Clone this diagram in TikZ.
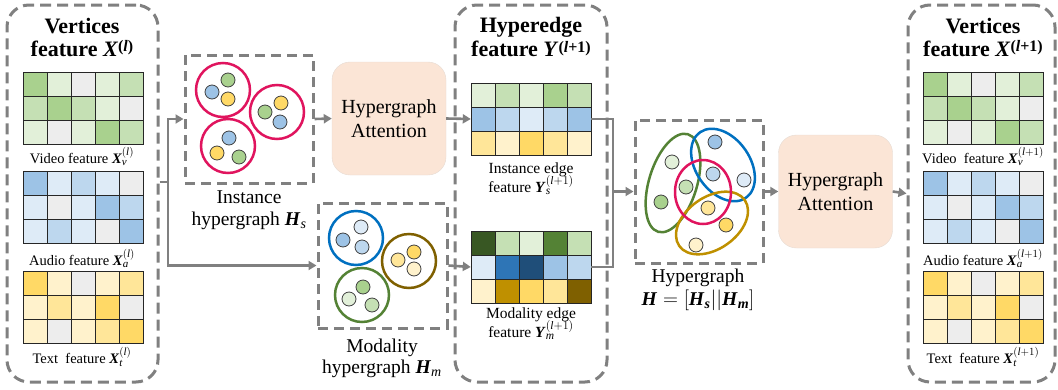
\documentclass[tikz,border=0pt]{standalone}
\usepackage{amsmath}
\usepackage{fontspec}
\setmainfont{Liberation Serif}
\usetikzlibrary{arrows.meta}
\DeclareMathSizes{14.5}{14.5}{11}{8}
\DeclareMathSizes{15.5}{15.5}{11.5}{8.5}
\DeclareMathSizes{19.5}{19.5}{14}{10}
\definecolor{G1}{HTML}{E2F0D9}\definecolor{G2}{HTML}{C5E0B4}\definecolor{G3}{HTML}{A9D18E}
\definecolor{GR}{HTML}{EDEDED}
\definecolor{B1}{HTML}{DEEBF7}\definecolor{B2}{HTML}{BDD7EE}\definecolor{B3}{HTML}{9DC3E6}
\definecolor{Y1}{HTML}{FFF2CC}\definecolor{Y2}{HTML}{FFE699}\definecolor{Y3}{HTML}{FFD966}
\definecolor{GD}{HTML}{385723}\definecolor{GM}{HTML}{548235}
\definecolor{BS}{HTML}{2E75B6}\definecolor{BD}{HTML}{1F4E79}
\definecolor{YG}{HTML}{BF9000}\definecolor{YD}{HTML}{7F6000}
\definecolor{dgray}{HTML}{808080}
\definecolor{peach}{HTML}{FBE5D6}
\definecolor{crim}{HTML}{E0145E}
\definecolor{cblue}{HTML}{0070C0}
\newcommand\bmi[1]{\textbf{\textit{#1}}}
\newcommand\tsup[2]{\raisebox{#1}{\fontsize{16}{16}\selectfont #2}}
\newcommand\featmat[4]{%
  \foreach \cc [count=\i from 0] in {#4}{%
    \pgfmathtruncatemacro\cx{mod(\i,5)}%
    \pgfmathtruncatemacro\cy{\i/5}%
    \filldraw[fill=\cc, draw=black!85, line width=1pt] ({#2+24*\cx},{#3+24*\cy}) rectangle ++(24,24);
  }
  \node[inner sep=0, minimum width=120pt, minimum height=72pt] (#1) at ({#2+60},{#3+36}) {};
}
\begin{document}
\begin{tikzpicture}[x=1pt,y=-1pt,
  panel/.style={draw=dgray, line width=3pt, dash pattern=on 11pt off 6pt, rounded corners=22pt, inner sep=0},
  hbox/.style={draw=dgray, line width=3pt, dash pattern=on 10pt off 6pt, inner sep=0},
  att/.style={fill=peach, draw=peach!85!black!60, line width=0.4pt, rounded corners=18pt, minimum width=114pt, minimum height=113pt, align=center, font=\fontsize{20}{23.5}\selectfont, inner sep=0},
  ttl/.style={anchor=base, font=\fontsize{22}{26}\selectfont\bfseries, inner sep=0},
  lab/.style={anchor=base, font=\fontsize{14.5}{17}\selectfont, inner sep=0},
  elab/.style={anchor=base, font=\fontsize{15.5}{18}\selectfont, inner sep=0},
  hlab/.style={anchor=base, font=\fontsize{19.5}{22}\selectfont, inner sep=0},
  vx/.style={circle, draw=black!75, line width=0.8pt, minimum size=14pt, inner sep=0},
  line/.style={draw=dgray, line width=2.6pt},
  conn/.style={draw=dgray, line width=2.6pt, -{Triangle[length=8pt,width=9pt]}},
  edg/.style={line width=2.5pt},
]
\useasboundingbox (0,0) rectangle (1058,389);

% ---------- panels ----------
\node[panel, minimum width=151pt, minimum height=377pt] (lp) at (82.5,193.5) {};
\node[panel, minimum width=152pt, minimum height=377pt] (hp) at (531,193.5) {};
\node[panel, minimum width=147pt, minimum height=377pt] (rp) at (981.5,193.5) {};

% ---------- left panel ----------
\node[ttl] (lt1) at (82,33) {Vertices};
\node[ttl] (lt2) at (82,56) {feature \bmi{X}\tsup{4.5pt}{(\textit{l}\/)}};
\featmat{lv}{23}{72}{G3,G1,GR,G1,G2, G2,G3,G2,G1,GR, G1,GR,G1,G3,G2}
\featmat{la}{23}{171}{B3,B1,B2,B1,GR, B1,GR,B1,B3,B2, B1,B2,B1,GR,B3}
\featmat{lx}{23}{271}{Y3,Y1,GR,Y1,Y2, Y1,Y2,Y1,Y3,GR, Y1,GR,Y1,Y2,Y3}
\node[lab] (lvl) at (82,163) {Video feature $\bmi{X}_{\text{\itshape v}}^{(\text{\itshape l\/})}$};
\node[lab] (lal) at (82,265) {Audio feature $\bmi{X}_{\text{\itshape a}}^{(\text{\itshape l\/})}$};
\node[lab] (lxl) at (82,363) {Text\ \ feature $\bmi{X}_{\text{\itshape t}}^{(\text{\itshape l\/})}$};

% ---------- instance hypergraph ----------
\node[hbox, minimum width=128pt, minimum height=128pt] (inst) at (249,119) {};
\draw[edg, crim] (223,90) circle[radius=27pt];
\draw[edg, crim] (277,112) circle[radius=27pt];
\draw[edg, crim] (228,146) circle[radius=27pt];
\node[vx, fill=B3] (i1) at (212,92) {};
\node[vx, fill=G3] (i2) at (228,80) {};
\node[vx, fill=Y3] (i3) at (228,99) {};
\node[vx, fill=G3] (i4) at (265,112) {};
\node[vx, fill=Y3] (i5) at (281,103) {};
\node[vx, fill=B3] (i6) at (280,122) {};
\node[vx, fill=B3] (i7) at (229,138) {};
\node[vx, fill=Y3] (i8) at (217,153) {};
\node[vx, fill=G3] (i9) at (239,157) {};
\node[hlab] (il1) at (249,203) {Instance};
\node[hlab] (il2) at (249,225) {hypergraph $\bmi{H}_{\text{\itshape s}}$};

% ---------- modality hypergraph ----------
\node[hbox, minimum width=129pt, minimum height=125pt] (mod) at (382.5,265.5) {};
\draw[edg, cblue] (356,238) circle[radius=27pt];
\draw[edg, YD] (409,261) circle[radius=27pt];
\draw[edg, GM] (362,295) circle[radius=27pt];
\node[vx, fill=B3] (m1) at (343,240) {};
\node[vx, fill=B1] (m2) at (361,227) {};
\node[vx, fill=B2] (m3) at (362,247) {};
\node[vx, fill=Y2] (m4) at (398,260) {};
\node[vx, fill=Y3] (m5) at (414,252) {};
\node[vx, fill=Y1] (m6) at (414,269) {};
\node[vx, fill=G3] (m7) at (363,287) {};
\node[vx, fill=G1] (m8) at (349,299) {};
\node[vx, fill=G2] (m9) at (372,305) {};
\node[hlab] (ml1) at (382,352) {Modality};
\node[hlab] (ml2) at (382,373) {hypergraph $\bmi{H}_{\text{\itshape m}}$};

% ---------- attention 1 ----------
\node[att] (att1) at (389,118.5) {Hypergraph\\Attention};

% ---------- hyperedge panel ----------
\node[ttl] (ht1) at (531,32) {Hyperedge};
\node[ttl] (ht2) at (531,56) {feature \bmi{Y}\tsup{3.5pt}{(\textit{l}\/+1)}};
\featmat{ys}{471}{83}{G1,G2,G1,G3,G2, B3,B2,B1,B2,B3, Y2,Y1,Y3,Y2,Y1}
\featmat{ym}{471}{231}{GD,G2,G1,GM,G2, B1,BS,BD,B3,B2, Y1,YG,Y3,Y2,YD}
\node[elab] (yl1) at (531,173) {Instance edge};
\node[elab] (yl2) at (531,192) {feature $\bmi{Y}_{\text{\itshape s}}^{(\text{\itshape l\/}+1)}$};
\node[elab] (yl3) at (531,318) {Modality edge};
\node[elab] (yl4) at (531,337) {feature $\bmi{Y}_{\text{\itshape m}}^{(\text{\itshape l\/}+1)}$};

% ---------- merged hypergraph ----------
\node[hbox, minimum width=128pt, minimum height=143pt] (hg) at (699,191.5) {};
\draw[edg, GM, rotate around={73:(673,183)}] (673,183) ellipse[x radius=51pt, y radius=24pt];
\draw[edg, cblue, rotate around={-55:(723,165)}] (723,165) ellipse[x radius=40pt, y radius=27pt];
\draw[edg, YG, rotate around={35:(712,223)}] (712,223) ellipse[x radius=40pt, y radius=26pt];
\draw[edg, crim] (703,192) ellipse[x radius=28pt, y radius=32pt];
\node[vx, fill=G1] (h1) at (672,162) {};
\node[vx, fill=G2] (h2) at (686,187) {};
\node[vx, fill=G3] (h3) at (661,202) {};
\node[vx, fill=B3] (h4) at (715,142) {};
\node[vx, fill=B2] (h5) at (713,174) {};
\node[vx, fill=B1] (h6) at (744,180) {};
\node[vx, fill=Y2] (h7) at (708,208) {};
\node[vx, fill=Y3] (h8) at (726,225) {};
\node[vx, fill=Y1] (h9) at (696,245) {};
\node[hlab] (hl1) at (698,282) {Hypergraph};
\node[hlab] (hl2) at (698,305) {$\bmi{H}=[\bmi{H}_{\text{\bfseries\itshape s}}||\bmi{H}_{\text{\bfseries\itshape m}}]$};

% ---------- attention 2 ----------
\node[att] (att2) at (835.5,191.5) {Hypergraph\\Attention};

% ---------- right panel ----------
\node[ttl] (rt1) at (983,33) {Vertices};
\node[ttl] (rt2) at (983,56) {feature \bmi{X}\tsup{4.5pt}{(\textit{l}\/+1)}};
\featmat{rv}{923}{72}{G3,G1,GR,G1,G2, G2,G3,G2,G1,GR, G1,GR,G1,G3,G2}
\featmat{ra}{923}{171}{B3,B1,B2,B1,GR, B1,GR,B1,B3,B2, B1,B2,B1,GR,B3}
\featmat{rx}{923}{271}{Y3,Y1,GR,Y1,Y2, Y1,Y2,Y1,Y3,GR, Y1,GR,Y1,Y2,Y3}
\node[lab] (rvl) at (983,163) {Video\ \ feature $\bmi{X}_{\text{\itshape v}}^{(\text{\itshape l\/}+1)}$};
\node[lab] (ral) at (983,265) {Audio feature $\bmi{X}_{\text{\itshape a}}^{(\text{\itshape l\/}+1)}$};
\node[lab] (rxl) at (983,363) {Text\ \ feature $\bmi{X}_{\text{\itshape t}}^{(\text{\itshape l\/}+1)}$};

% ---------- connectors ----------
\coordinate (sp) at (168,182);
\draw[line] (lp.east |- sp) -- (sp);
\draw[conn] (sp) |- (inst.west);
\draw[conn] (sp) |- (mod.west);
\draw[conn] (inst.east) -- (att1.west);
\draw[conn] (att1.east) -- (ys.west);
\draw[conn] (mod.east) -- (ym.west);
\coordinate (jn) at (613,191.5);
\draw[line] (ys.east) -| (jn);
\draw[line] (ym.east) -| (jn);
\draw[conn] (jn) -- (hg.west);
\draw[conn] (hg.east) -- (att2.west);
\draw[conn] (att2.east) -- (rp.west);
\end{tikzpicture}
\end{document}
